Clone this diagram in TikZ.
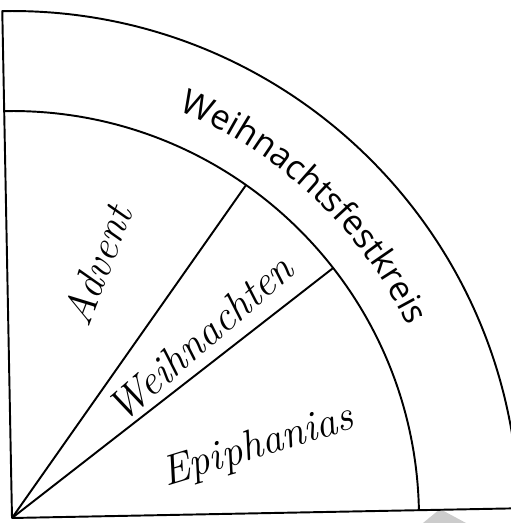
\documentclass[tikz,border=0pt]{standalone}
\usepackage{fontspec}
\newfontfamily\bandfont{Open Sans}
\usetikzlibrary{decorations.text}

\begin{document}
\begin{tikzpicture}[x=0.02cm,y=0.02cm,
        rim/.style={line width=1.1pt,line join=round},
        season/.style={font=\fontsize{24}{28}\selectfont\itshape,inner sep=0pt},
        wmark/.style={fill=black!20,draw=none}
        ]
    \useasboundingbox (0,0) rectangle (510,523);

    % watermark corners
    \fill[wmark] (495,61) -- (510,76) -- (510,42) -- cycle;
    \fill[wmark] (440,14) -- (423,0) -- (466,0) -- cycle;

    \begin{scope}[shift={(12,5)},rotate=1.1]
        \coordinate (O) at (0,0);
        \coordinate (top) at (90:507);
        \coordinate (right) at (0:507);
        \coordinate (itop) at (90:407);
        \coordinate (cut1) at (53.8:407);
        \coordinate (cut2) at (36.8:407);
        \draw[rim,fill=white] (right) -- (O) -- (top) arc (90:0:507);
        \draw[rim] (itop) arc (90:0:407);
        \draw[rim] (O) to (cut1);
        \draw[rim] (O) to (cut2);
        \path[decorate,decoration={text along path,text align=center,
            text={|\fontsize{19.5}{24}\selectfont\bandfont|Weihnachtsfestkreis}}]
            (70.7:440) arc (70.7:20.7:440);
    \end{scope}

    \node (advent) at (97,258) [season,rotate=69] {Advent};
    \node (weihnachten) at (200,185) [season,rotate=41] {Weihnachten};
    \node (epiphanias) at (258,76) [season,rotate=17] {Epiphanias};
\end{tikzpicture}
\end{document}
